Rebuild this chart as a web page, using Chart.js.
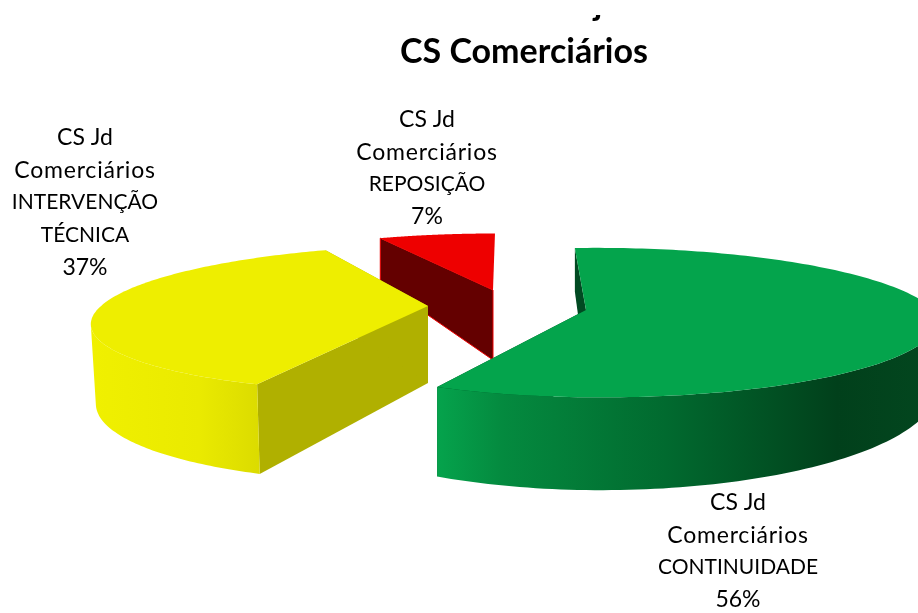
<!DOCTYPE html>
<html>
<head>
<meta charset="utf-8">
<title>CS Comerciários</title>
<script src="https://cdn.jsdelivr.net/npm/chart.js@4"></script>
<style>
    html, body { margin: 0; padding: 0; background: #fff; }
    canvas { display: block; }
</style>
</head>
<body>
<canvas id="pieChart" width="918" height="613"></canvas>
<script>
// Data
const categories = ['CS Jd Comerciários CONTINUIDADE', 'CS Jd Comerciários INTERVENÇÃO TÉCNICA', 'CS Jd Comerciários REPOSIÇÃO'];
const shares = [56, 37, 7];
const labelLines = [
    ['CS Jd', 'Comerciários', 'CONTINUIDADE'],
    ['CS Jd', 'Comerciários', 'INTERVENÇÃO', 'TÉCNICA'],
    ['CS Jd', 'Comerciários', 'REPOSIÇÃO']
];
const titleText = 'CS Comerciários';
const clippedTitleText = 'j';

// Colours
const topColors = ['#04a44c', '#eeee00', '#ee0000'];
const cutColors = ['#014a22', '#b0b000', '#640000'];
const wallStops = [
    [[0, '#05a34c'], [0.13, '#048a3f'], [0.46, '#016a2f'], [0.8, '#01401b'], [1, '#03471f']],
    [[0, '#f0f000'], [0.65, '#eaea00'], [1, '#dcdc00']],
    [[0, '#640000'], [1, '#640000']]
];

// How each slice sits in the fake 3D view (Excel style exploded pie)
const PERSPECTIVE = 0.168;
const sliceViews = [
    { shiftX: 127, shiftY: 3.5, rx: 1.067, ry: 0.2413, leanFar: -0.18, leanNear: 0.18, sideways: 0.08, depth: 64, depthGrow: 0.33, taper: 0, endCut: true },
    { shiftX: -31, shiftY: -0.5, rx: 1.09, ry: 0.237, leanFar: 0.33, leanNear: 0.36, sideways: 0, depth: 77, depthGrow: 0.16, taper: 0.015, endCut: true },
    { shiftX: 34, shiftY: -16.5, rx: 1.033, ry: 0.22, leanFar: 0.035, leanNear: 0.035, sideways: 0, depth: 70, depthGrow: 0.5, taper: 0, endCut: false }
];

// Where the labels go
const labelCenters = [[738, 503], [85, 138], [427, 120]];
const LABEL_LINE_HEIGHT = 32.3;
const CAPS_FONT = '21px Lato';
const MIXED_FONT = '23px Lato';

function projector(arc, view) {
    const cx = arc.x + view.shiftX;
    const cy = arc.y + view.shiftY;
    const rx = arc.outerRadius * view.rx;
    const ry = arc.outerRadius * view.ry;
    return function (angle) {
        const c = Math.cos(angle), s = Math.sin(angle);
        const k = 1 / (1 - PERSPECTIVE * s - view.sideways * c);
        const dy = ry * s * k;
        const lean = dy < 0 ? view.leanFar : view.leanNear;
        return [cx + rx * c * k - lean * dy, cy + dy, view.depth + view.depthGrow * dy];
    };
}

function fillPoly(ctx, pts, fill, stroke) {
    ctx.beginPath();
    pts.forEach((p, i) => i ? ctx.lineTo(p[0], p[1]) : ctx.moveTo(p[0], p[1]));
    ctx.closePath();
    ctx.fillStyle = fill;
    ctx.fill();
    if (stroke) {
        ctx.strokeStyle = stroke;
        ctx.lineWidth = 1;
        ctx.stroke();
    }
}

function drawSlice(ctx, arc, i) {
    const view = sliceViews[i];
    const project = projector(arc, view);
    const apex = [arc.x + view.shiftX, arc.y + view.shiftY, view.depth];
    const down = p => [p[0] + (apex[0] - p[0]) * view.taper, p[1] + p[2]];

    const rim = [];
    const steps = 160;
    for (let n = 0; n <= steps; n++) {
        rim.push(project(arc.startAngle + (arc.endAngle - arc.startAngle) * n / steps));
    }
    const first = rim[0], last = rim[rim.length - 1];
    const edge = i === 2 ? topColors[2] : null;

    // cut faces
    fillPoly(ctx, [apex, first, down(first), down(apex)], cutColors[i], edge);
    if (view.endCut) {
        fillPoly(ctx, [apex, last, down(last), down(apex)], cutColors[i], edge);
    }

    // outer wall, only the part of the rim that faces us (runs right to left)
    const front = rim.filter((p, n) => (n < steps ? rim[n + 1][0] < p[0] : p[0] < rim[n - 1][0]));
    if (front.length > 1) {
        const xs = front.map(p => p[0]);
        const minX = Math.min(...xs), maxX = Math.max(...xs);
        const shade = ctx.createLinearGradient(minX, 0, maxX, 0);
        wallStops[i].forEach(s => shade.addColorStop(s[0], s[1]));
        fillPoly(ctx, front.concat(front.map(down).reverse()), shade);
    }

    // top face
    fillPoly(ctx, [apex].concat(rim), topColors[i]);
}

const pie3d = {
    id: 'pie3d',
    beforeDatasetsDraw(chart) {
        const arcs = chart.getDatasetMeta(0).data;
        const ctx = chart.ctx;
        ctx.save();
        // back to front
        for (let i = arcs.length - 1; i >= 0; i--) {
            drawSlice(ctx, arcs[i], i);
        }
        ctx.restore();
        return false;
    },
    afterDraw(chart) {
        const ctx = chart.ctx;
        ctx.save();
        ctx.textAlign = 'center';
        ctx.textBaseline = 'middle';
        ctx.fillStyle = '#000';

        shares.forEach((v, i) => {
            const lines = labelLines[i].concat(v + '%');
            lines.forEach((line, n) => {
                // capitals run smaller than the rest, lower case is set wider
                ctx.font = /[a-z0-9]/.test(line) ? MIXED_FONT : CAPS_FONT;
                ctx.letterSpacing = line === 'Comerciários' ? '0.8px' : '0px';
                ctx.fillText(line, labelCenters[i][0], labelCenters[i][1] + n * LABEL_LINE_HEIGHT);
            });
        });
        ctx.letterSpacing = '0px';

        ctx.font = 'bold 34px Lato';
        ctx.fillText(titleText, 524, 52);

        // top line of the title is cut off in the source, only a descender shows
        ctx.beginPath();
        ctx.rect(560, 15, 60, 10);
        ctx.clip();
        ctx.textBaseline = 'alphabetic';
        ctx.fillText(clippedTitleText, 598, 15);
        ctx.restore();
    }
};

new Chart(document.getElementById('pieChart').getContext('2d'), {
    type: 'pie',
    data: {
        labels: categories,
        datasets: [{
            data: shares,
            backgroundColor: topColors,
            borderWidth: 0
        }]
    },
    options: {
        responsive: false,
        animation: false,
        radius: 300,
        plugins: {
            legend: { display: false },
            tooltip: { enabled: false },
            title: { display: false }
        }
    },
    plugins: [pie3d]
});
</script>
</body>
</html>
